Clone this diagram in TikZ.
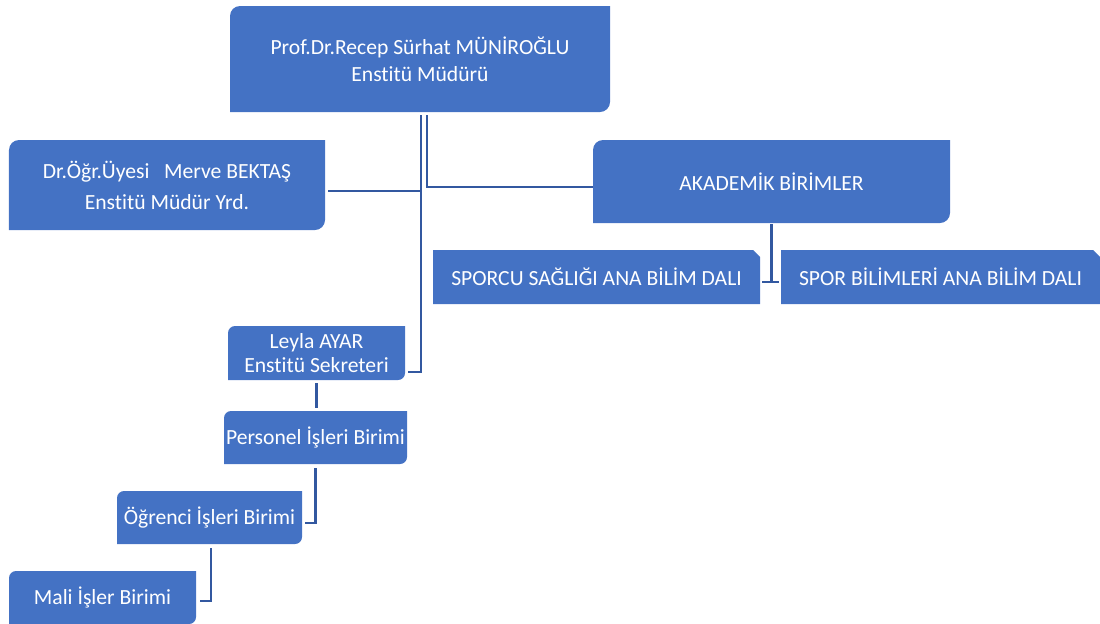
\documentclass[tikz,border=0pt]{standalone}
\usepackage{fontspec}
\usepackage{xcolor}
\setmainfont{Carlito}[RawFeature={-liga;-clig;-calt;-dlig}]
\usetikzlibrary{calc}
\definecolor{unitblue}{RGB}{68,114,196}
\definecolor{linkblue}{RGB}{50,88,160}
\tikzset{boxtext/.style={inner sep=0pt,text=white,align=center,
        font=\fontsize{12.3}{14.8}\selectfont},
    unitbox/.style={boxtext,
        path picture={\fill[unitblue] (path picture bounding box.south west)
            -- ([yshift=-#1]path picture bounding box.north west)
            arc[start angle=180,end angle=90,radius=#1]
            -- (path picture bounding box.north east)
            -- ([yshift=#1]path picture bounding box.south east)
            arc[start angle=0,end angle=-90,radius=#1] -- cycle;}},
    unitbox/.default=0.2cm,
    deptbox/.style={boxtext,
        path picture={\fill[unitblue] (path picture bounding box.south west)
            -- (path picture bounding box.north west)
            -- ([xshift=-0.14cm]path picture bounding box.north east)
            -- ([yshift=-0.14cm]path picture bounding box.north east)
            -- (path picture bounding box.south east) -- cycle;}},
    link/.style={draw=linkblue,line width=1.4pt}}

\begin{document}
\begin{tikzpicture}
\useasboundingbox (0,0) rectangle (22,-12.46);
\node[unitbox,minimum width=7.6cm,minimum height=2.12cm] (mudur) at (8.40,-1.18)
    {Prof.Dr.Recep Sürhat MÜNİROĞLU\\[0.5pt] Enstitü Müdürü};
\node[unitbox,minimum width=6.32cm,minimum height=1.80cm] (yardimci) at (3.34,-3.70)
    {Dr.Öğr.Üyesi\ \ \ Merve BEKTAŞ\\[2.8pt] Enstitü Müdür Yrd.};
\node[unitbox,minimum width=7.14cm,minimum height=1.66cm] (akademik) at (15.43,-3.63)
    {AKADEMİK BİRİMLER};
\node[deptbox,minimum width=6.54cm,minimum height=1.08cm] (sporcu) at (11.93,-5.54)
    {\raisebox{-2pt}{SPORCU SAĞLIĞI ANA BİLİM DALI}};
\node[deptbox,minimum width=6.38cm,minimum height=1.08cm] (sporbilim) at (18.81,-5.54)
    {\raisebox{-2pt}{SPOR BİLİMLERİ ANA BİLİM DALI}};
\node[unitbox=0.14cm,minimum width=3.54cm,minimum height=1.08cm] (sekreter) at (6.33,-7.06)
    {Leyla AYAR\\[-1.2pt] Enstitü Sekreteri};
\node[unitbox=0.14cm,minimum width=3.66cm,minimum height=1.06cm] (personel) at (6.31,-8.75)
    {Personel İşleri Birimi};
\node[unitbox=0.14cm,minimum width=3.70cm,minimum height=1.06cm] (ogrenci) at (4.19,-10.35)
    {Öğrenci İşleri Birimi};
\node[unitbox=0.14cm,minimum width=3.74cm,minimum height=1.06cm] (mali) at (2.05,-11.95)
    {Mali İşler Birimi};

\coordinate (trunk) at ([xshift=0.02cm,yshift=-0.06cm]mudur.south);
\draw[link] (trunk) |- ([xshift=0.06cm,yshift=-0.38cm]sekreter.east);
\draw[link] ([xshift=0.14cm,yshift=-0.06cm]mudur.south) |- ([yshift=-0.11cm]akademik.west);
\draw[link] ([xshift=0.06cm,yshift=-0.12cm]yardimci.east) coordinate (y1) -- (y1 -| trunk);
\draw[link] ([yshift=-0.02cm]akademik.south) -- ([yshift=-0.1cm]akademik.south |- sporcu.east);
\draw[link] ([xshift=0.04cm,yshift=-0.1cm]sporcu.east) -- ([xshift=-0.04cm,yshift=-0.1cm]sporbilim.west);
\draw[link] ([yshift=-0.06cm]sekreter.south) -- ([yshift=0.06cm]sekreter.south |- personel.north);
\draw[link] ([yshift=-0.08cm]personel.south) |- ([xshift=0.06cm,yshift=-0.11cm]ogrenci.east);
\draw[link] ([xshift=0.03cm,yshift=-0.08cm]ogrenci.south) |- ([xshift=0.08cm,yshift=-0.07cm]mali.east);
\end{tikzpicture}
\end{document}
